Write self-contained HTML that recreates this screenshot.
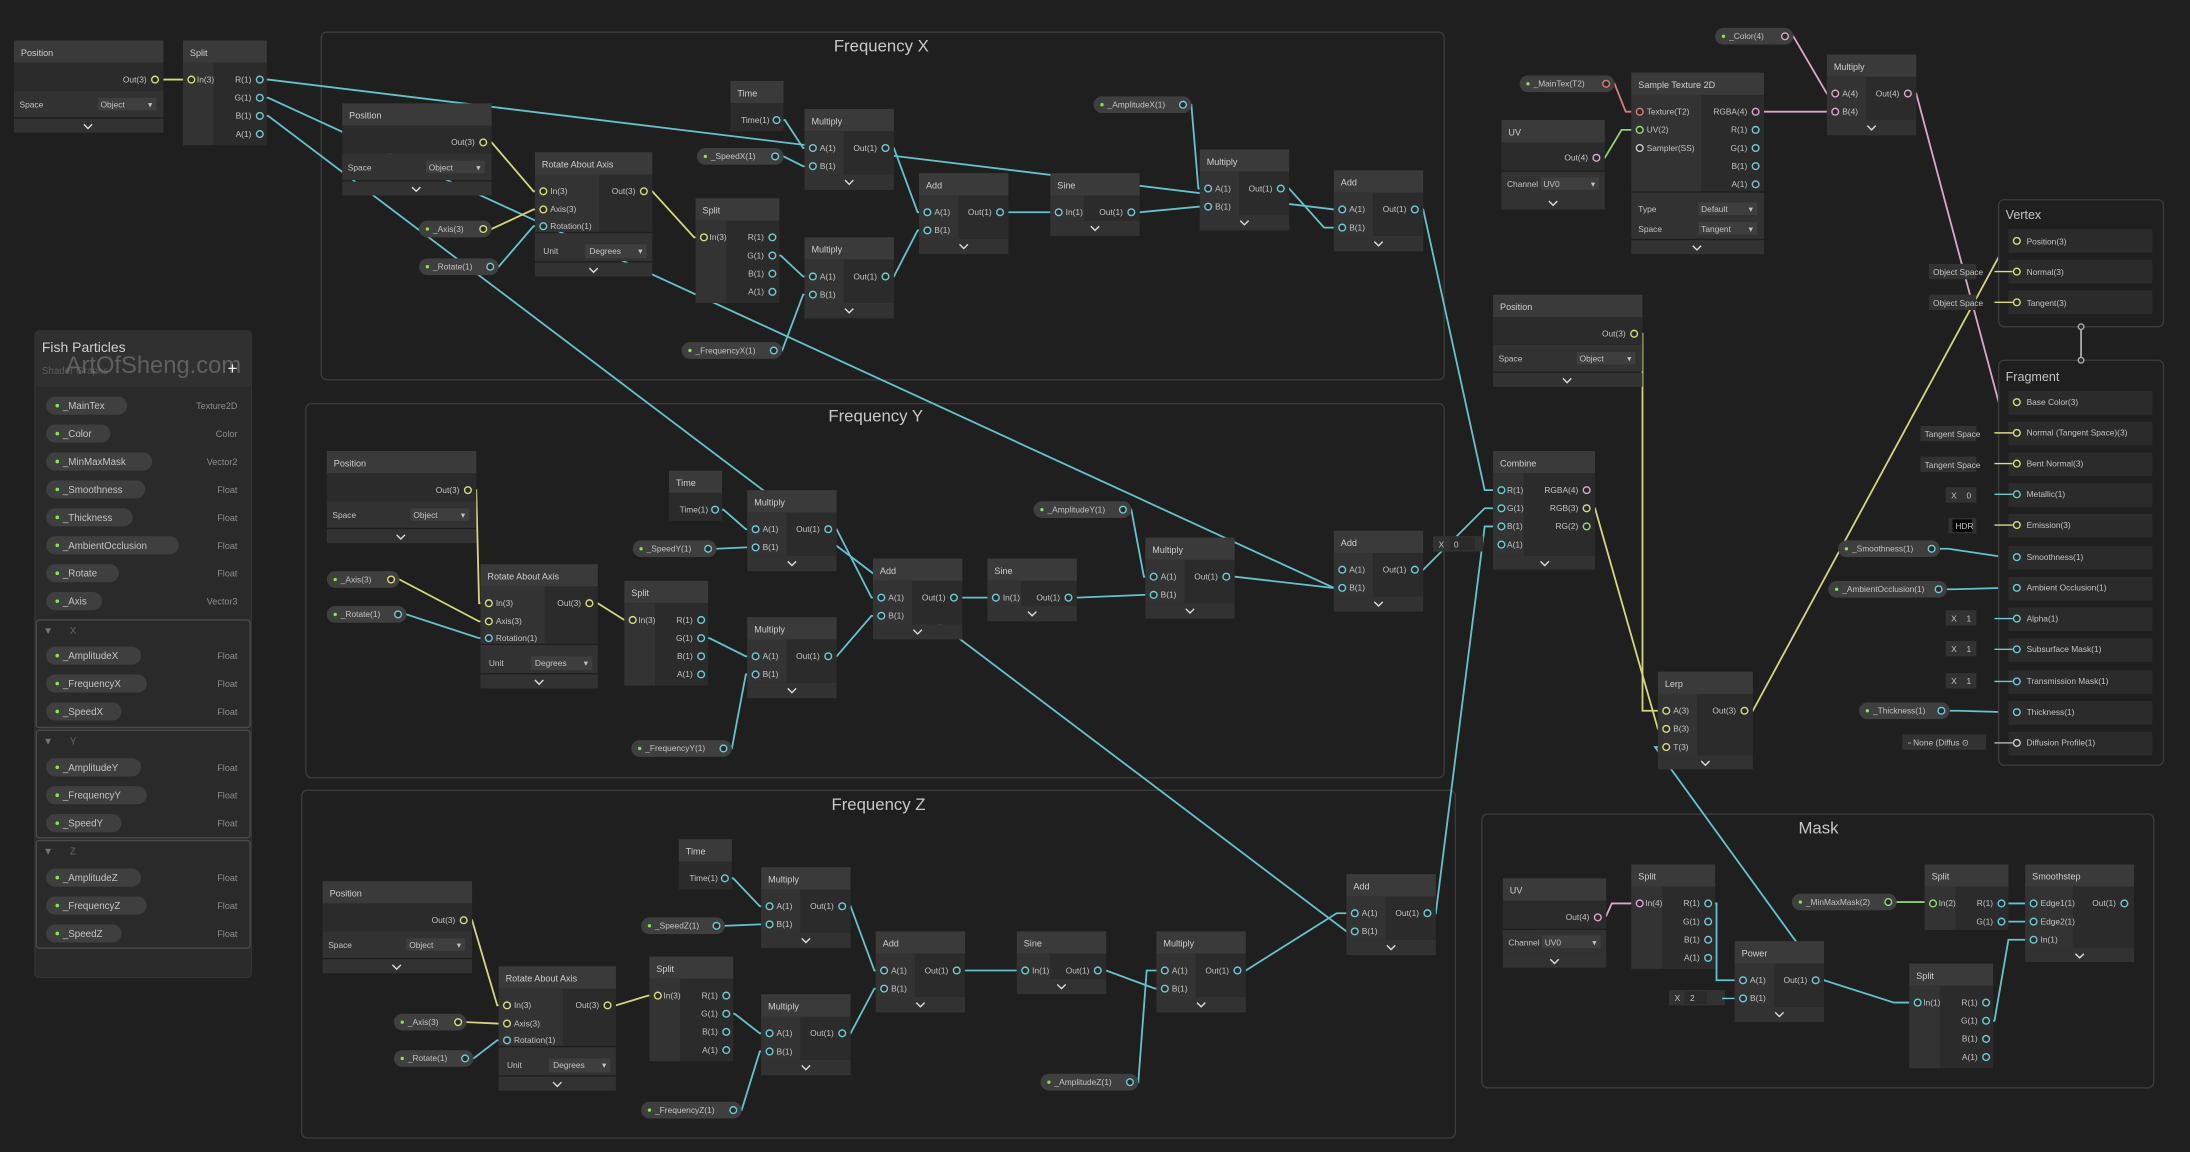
<!DOCTYPE html>
<html><head><meta charset="utf-8"><style>
html,body{margin:0;padding:0;background:#1f1f1f;overflow:hidden}
svg{display:block}
text{fill:#c4c4c4;font-family:"Liberation Sans",sans-serif;font-size:6px}
.h{font-size:6.5px;fill:#cfcfcf}
.r{text-anchor:end}
.gt{font-size:12px;fill:#c8c8c8;text-anchor:middle}
.hd{fill:#3a3a3a}.bd{fill:#2b2b2b}.ic{fill:#333}.ft{fill:#323232}
.dd{fill:#3e3e3e}
.cv{fill:none;stroke:#ddd;stroke-width:1}
circle{r:2.4;fill:#2a2a2a;stroke-width:1}
.pc{stroke:#6fcad2}.py{stroke:#d8db7e}.pp{stroke:#dba7cc}.pg{stroke:#9ad77e}.pr{stroke:#e07a7a}
.w{fill:none;stroke-width:1.3}
.wc{stroke:#63c3cb}.wy{stroke:#d3d67a}.wp{stroke:#d9a6c9}.wg{stroke:#8fcf78}.wr{stroke:#d97a7a}
.pill{fill:#3f3f3f}
.grp{fill:#1f1f1f;stroke:#3b3b3b;stroke-width:1}
.dot{fill:#8be05a}
.ty{fill:#8e8e8e;text-anchor:end;font-size:6.5px}
.bb{font-size:7px}
</style></head><body>
<svg width="2190" height="1152" viewBox="0 0 1568 825" preserveAspectRatio="none" xmlns="http://www.w3.org/2000/svg">
<rect width="1568" height="825" fill="#1f1f1f"/>
<!-- groups -->
<rect class="grp" x="230" y="23" width="804" height="249" rx="4"/><text class="gt" x="631" y="37">Frequency X</text>
<rect class="grp" x="219" y="289" width="815" height="268" rx="4"/><text class="gt" x="627" y="302">Frequency Y</text>
<rect class="grp" x="216" y="566" width="826" height="249" rx="4"/><text class="gt" x="629" y="580">Frequency Z</text>
<rect class="grp" x="1061" y="583" width="481" height="196" rx="4"/><text class="gt" x="1302" y="597">Mask</text>

<!-- wires -->
<g class="w">
<path class="w wy" d="M111 57H137"/>
<path class="w wc" d="M186 57h6L955 150h6"/>
<path class="w wc" d="M186 70h6L955 421h6"/>
<path class="w wc" d="M186 83h6L964 667h6"/>
<!-- X -->
<path class="w wy" d="M346 102h6l30 35h7"/>
<path class="w wy" d="M346 164h6l30 -14h7"/>
<path class="w wc" d="M351 191h6l25 -29h7"/>
<path class="w wy" d="M461 137h6l30 33h7"/>
<path class="w wc" d="M556 86h6l13 20h7"/>
<path class="w wc" d="M555 112h6l14 7h7"/>
<path class="w wc" d="M553 183h6l16 15h7"/>
<path class="w wc" d="M554 251h6l15 -40h7"/>
<path class="w wc" d="M634 106h6l17 46h7"/>
<path class="w wc" d="M634 198h6l17 -33h7"/>
<path class="w wc" d="M716 152H758"/>
<path class="w wc" d="M810 152h6l42 -4h7"/>
<path class="w wc" d="M847 75h6l5 60h7"/>
<path class="w wc" d="M917 135h6l25 28h7"/>
<!-- Y -->
<path class="w wy" d="M335 351h6l2 81h7"/>
<path class="w wy" d="M280 415h6l57 30h7"/>
<path class="w wc" d="M285 440h6l52 17h7"/>
<path class="w wy" d="M422 432h6l19 12h6"/>
<path class="w wc" d="M512 365h6l16 14h7"/>
<path class="w wc" d="M507 393h6l21 -1h7"/>
<path class="w wc" d="M502 457h6l26 13h7"/>
<path class="w wc" d="M518 536h6l10 -53h7"/>
<path class="w wc" d="M593 379h6l25 49h7"/>
<path class="w wc" d="M593 470h6l25 -29h7"/>
<path class="w wc" d="M683 428H713"/>
<path class="w wc" d="M765 428h6l48 -2h7"/>
<path class="w wc" d="M804 365h6l9 48h7"/>
<path class="w wc" d="M878 413h6l70 8h7"/>
<!-- Z -->
<path class="w wy" d="M332 659h6l18 61h7"/>
<path class="w wy" d="M328 732h6l22 1h7"/>
<path class="w wc" d="M333 758h6l17 -13h7"/>
<path class="w wy" d="M435 720h6l23 -7h7"/>
<path class="w wc" d="M519 629h6l19 20h7"/>
<path class="w wc" d="M513 663h6l25 -1h7"/>
<path class="w wc" d="M520 726h6l18 14h7"/>
<path class="w wc" d="M525 795h6l13 -42h7"/>
<path class="w wc" d="M603 649h6l17 46h7"/>
<path class="w wc" d="M603 740h6l17 -32h7"/>
<path class="w wc" d="M685 695H734"/>
<path class="w wc" d="M786 695h6l35 13h7"/>
<path class="w wc" d="M809 775h6l6 -80h7"/>
<path class="w wc" d="M886 695h6l65 -41h7"/>
<!-- to combine -->
<path class="w wc" d="M1013 150h6l44 201h6"/>
<path class="w wc" d="M1013 408h6l44 -44h6"/>
<path class="w wc" d="M1022 654h6l35 -277h6"/>
<path class="w wy" d="M1136 364h6l45 158h6"/>
<path class="w wy" d="M1170 239h6v270h17"/>
<path class="w wy" d="M1249 509h6l182 -336h6"/>
<!-- texture -->
<path class="w wg" d="M1143 113h6l12 -20h13"/>
<path class="w wr" d="M1150 60h6l8 20h10"/>
<path class="w wp" d="M1256 80H1314"/>
<path class="w wp" d="M1278 26h6l24 41h6"/>
<path class="w wp" d="M1366 67h6l59 221h12"/>
<path class="w wc" d="M1389 393h6l40 6h8"/>
<path class="w wc" d="M1394 422h6l35 -1h8"/>
<path class="w wc" d="M1396 509h6l33 1h8"/>
<!-- mask -->
<path class="w wp" d="M1144 656h6l4 -9h20"/>
<path class="w wc" d="M1223 647h6v55h19"/>
<path class="w wc" d="M1300 702h6l-121 -167h8"/>
<path class="w wc" d="M1300 702h6l50 16h17"/>
<path class="w wc" d="M1422 731h6l10 -58h18"/>
<path class="w wg" d="M1352 646H1384"/>
<path class="w wc" d="M1433 647h6l5 0h12"/>
<path class="w wc" d="M1433 660h6l5 0h12"/>
<path class="w" stroke="#aaa" d="M1490 234V258"/>
</g>

<!-- Top-left Position -->
<g transform="translate(10,29)"><rect width="107" height="16" class="hd"/><text class="h" x="5" y="11">Position</text><rect y="16" width="107" height="20" class="bd"/><text class="r" x="95" y="30">Out(3)</text><circle cx="101" cy="28" class="py"/><rect y="36" width="107" height="19" class="ft"/><text x="4" y="48">Space</text><rect x="60" y="41" width="42" height="9" class="dd"/><text x="62" y="48">Object</text><text x="96" y="48">▾</text><rect y="56" width="107" height="10" class="ft"/><path d="M50 60l3 3 3-3" class="cv"/></g>
<!-- Split top-left -->
<g transform="translate(131,29)"><rect width="60" height="16" class="hd"/><text class="h" x="5" y="11">Split</text><rect y="16" width="60" height="59" class="bd"/><rect y="16" width="22" height="59" class="ic"/><circle cx="6" cy="28" class="py"/><text x="10" y="30">In(3)</text><text class="r" x="49" y="30">R(1)</text><circle cx="55" cy="28" class="pc"/><text class="r" x="49" y="43">G(1)</text><circle cx="55" cy="41" class="pc"/><text class="r" x="49" y="56">B(1)</text><circle cx="55" cy="54" class="pc"/><text class="r" x="49" y="69">A(1)</text><circle cx="55" cy="67" class="pc"/></g>

<!-- ============ Frequency X ============ -->
<g transform="translate(245,74)"><rect width="107" height="16" class="hd"/><text class="h" x="5" y="11">Position</text><rect y="16" width="107" height="20" class="bd"/><text class="r" x="95" y="30">Out(3)</text><circle cx="101" cy="28" class="py"/><rect y="36" width="107" height="19" class="ft"/><text x="4" y="48">Space</text><rect x="60" y="41" width="42" height="9" class="dd"/><text x="62" y="48">Object</text><text x="96" y="48">▾</text><rect y="56" width="107" height="10" class="ft"/><path d="M50 60l3 3 3-3" class="cv"/></g>
<g transform="translate(383,109)"><rect width="84" height="16" class="hd"/><text class="h" x="5" y="11">Rotate About Axis</text><rect y="16" width="84" height="41" class="bd"/><rect y="16" width="46" height="41" class="ic"/><circle cx="6" cy="28" class="py"/><text x="11" y="30">In(3)</text><circle cx="6" cy="41" class="py"/><text x="11" y="43">Axis(3)</text><circle cx="6" cy="53" class="pc"/><text x="11" y="55">Rotation(1)</text><text class="r" x="72" y="30">Out(3)</text><circle cx="78" cy="28" class="py"/><rect y="58" width="84" height="20" class="ft"/><text x="6" y="73">Unit</text><rect x="36" y="66" width="44" height="10" class="dd"/><text x="39" y="73">Degrees</text><text x="74" y="73">▾</text><rect y="79" width="84" height="10" class="ft"/><path d="M39 83l3 3 3-3" class="cv"/></g>
<g transform="translate(300,158)"><rect width="52" height="12" rx="6" class="pill"/><circle cx="6" cy="6" r="1.2" class="dot" style="r:1.2;stroke:none;fill:#8be05a"/><text x="10" y="8">_Axis(3)</text><circle cx="46" cy="6" class="py"/></g>
<g transform="translate(300,185)"><rect width="57" height="12" rx="6" class="pill"/><circle cx="6" cy="6" style="r:1.2;stroke:none;fill:#8be05a"/><text x="10" y="8">_Rotate(1)</text><circle cx="51" cy="6" class="pc"/></g>
<g transform="translate(523,58)"><rect width="38" height="16" class="hd"/><text class="h" x="5" y="11">Time</text><rect y="16" width="38" height="20" class="bd"/><text class="r" x="28" y="30">Time(1)</text><circle cx="33" cy="28" class="pc"/></g>
<g transform="translate(499,106)"><rect width="62" height="12" rx="6" class="pill"/><circle cx="6" cy="6" style="r:1.2;stroke:none;fill:#8be05a"/><text x="10" y="8">_SpeedX(1)</text><circle cx="56" cy="6" class="pc"/></g>
<g transform="translate(576,78)"><rect width="64" height="16" class="hd"/><text class="h" x="5" y="11">Multiply</text><rect y="16" width="64" height="31" class="bd"/><rect y="16" width="28" height="31" class="ic"/><circle cx="6" cy="28" class="pc"/><text x="11" y="30">A(1)</text><circle cx="6" cy="41" class="pc"/><text x="11" y="43">B(1)</text><text class="r" x="52" y="30">Out(1)</text><circle cx="58" cy="28" class="pc"/><rect y="47" width="64" height="11" class="ft"/><path d="M29 51l3 3 3-3" class="cv"/></g>
<g transform="translate(498,142)"><rect width="60" height="16" class="hd"/><text class="h" x="5" y="11">Split</text><rect y="16" width="60" height="59" class="bd"/><rect y="16" width="22" height="59" class="ic"/><circle cx="6" cy="28" class="py"/><text x="10" y="30">In(3)</text><text class="r" x="49" y="30">R(1)</text><circle cx="55" cy="28" class="pc"/><text class="r" x="49" y="43">G(1)</text><circle cx="55" cy="41" class="pc"/><text class="r" x="49" y="56">B(1)</text><circle cx="55" cy="54" class="pc"/><text class="r" x="49" y="69">A(1)</text><circle cx="55" cy="67" class="pc"/></g>
<g transform="translate(576,170)"><rect width="64" height="16" class="hd"/><text class="h" x="5" y="11">Multiply</text><rect y="16" width="64" height="31" class="bd"/><rect y="16" width="28" height="31" class="ic"/><circle cx="6" cy="28" class="pc"/><text x="11" y="30">A(1)</text><circle cx="6" cy="41" class="pc"/><text x="11" y="43">B(1)</text><text class="r" x="52" y="30">Out(1)</text><circle cx="58" cy="28" class="pc"/><rect y="47" width="64" height="11" class="ft"/><path d="M29 51l3 3 3-3" class="cv"/></g>
<g transform="translate(488,245)"><rect width="72" height="12" rx="6" class="pill"/><circle cx="6" cy="6" style="r:1.2;stroke:none;fill:#8be05a"/><text x="10" y="8">_FrequencyX(1)</text><circle cx="66" cy="6" class="pc"/></g>
<g transform="translate(658,124)"><rect width="64" height="16" class="hd"/><text class="h" x="5" y="11">Add</text><rect y="16" width="64" height="31" class="bd"/><rect y="16" width="28" height="31" class="ic"/><circle cx="6" cy="28" class="pc"/><text x="11" y="30">A(1)</text><circle cx="6" cy="41" class="pc"/><text x="11" y="43">B(1)</text><text class="r" x="52" y="30">Out(1)</text><circle cx="58" cy="28" class="pc"/><rect y="47" width="64" height="11" class="ft"/><path d="M29 51l3 3 3-3" class="cv"/></g>
<g transform="translate(752,124)"><rect width="64" height="16" class="hd"/><text class="h" x="5" y="11">Sine</text><rect y="16" width="64" height="18" class="bd"/><rect y="16" width="24" height="18" class="ic"/><circle cx="6" cy="28" class="pc"/><text x="11" y="30">In(1)</text><text class="r" x="52" y="30">Out(1)</text><circle cx="58" cy="28" class="pc"/><rect y="34" width="64" height="11" class="ft"/><path d="M29 38l3 3 3-3" class="cv"/></g>
<g transform="translate(783,69)"><rect width="70" height="12" rx="6" class="pill"/><circle cx="6" cy="6" style="r:1.2;stroke:none;fill:#8be05a"/><text x="10" y="8">_AmplitudeX(1)</text><circle cx="64" cy="6" class="pc"/></g>
<g transform="translate(859,107)"><rect width="64" height="16" class="hd"/><text class="h" x="5" y="11">Multiply</text><rect y="16" width="64" height="31" class="bd"/><rect y="16" width="28" height="31" class="ic"/><circle cx="6" cy="28" class="pc"/><text x="11" y="30">A(1)</text><circle cx="6" cy="41" class="pc"/><text x="11" y="43">B(1)</text><text class="r" x="52" y="30">Out(1)</text><circle cx="58" cy="28" class="pc"/><rect y="47" width="64" height="11" class="ft"/><path d="M29 51l3 3 3-3" class="cv"/></g>
<g transform="translate(955,122)"><rect width="64" height="16" class="hd"/><text class="h" x="5" y="11">Add</text><rect y="16" width="64" height="31" class="bd"/><rect y="16" width="28" height="31" class="ic"/><circle cx="6" cy="28" class="pc"/><text x="11" y="30">A(1)</text><circle cx="6" cy="41" class="pc"/><text x="11" y="43">B(1)</text><text class="r" x="52" y="30">Out(1)</text><circle cx="58" cy="28" class="pc"/><rect y="47" width="64" height="11" class="ft"/><path d="M29 51l3 3 3-3" class="cv"/></g>

<!-- ============ Frequency Y ============ -->
<g transform="translate(234,323)"><rect width="107" height="16" class="hd"/><text class="h" x="5" y="11">Position</text><rect y="16" width="107" height="20" class="bd"/><text class="r" x="95" y="30">Out(3)</text><circle cx="101" cy="28" class="py"/><rect y="36" width="107" height="19" class="ft"/><text x="4" y="48">Space</text><rect x="60" y="41" width="42" height="9" class="dd"/><text x="62" y="48">Object</text><text x="96" y="48">▾</text><rect y="56" width="107" height="10" class="ft"/><path d="M50 60l3 3 3-3" class="cv"/></g>
<g transform="translate(344,404)"><rect width="84" height="16" class="hd"/><text class="h" x="5" y="11">Rotate About Axis</text><rect y="16" width="84" height="41" class="bd"/><rect y="16" width="46" height="41" class="ic"/><circle cx="6" cy="28" class="py"/><text x="11" y="30">In(3)</text><circle cx="6" cy="41" class="py"/><text x="11" y="43">Axis(3)</text><circle cx="6" cy="53" class="pc"/><text x="11" y="55">Rotation(1)</text><text class="r" x="72" y="30">Out(3)</text><circle cx="78" cy="28" class="py"/><rect y="58" width="84" height="20" class="ft"/><text x="6" y="73">Unit</text><rect x="36" y="66" width="44" height="10" class="dd"/><text x="39" y="73">Degrees</text><text x="74" y="73">▾</text><rect y="79" width="84" height="10" class="ft"/><path d="M39 83l3 3 3-3" class="cv"/></g>
<g transform="translate(234,409)"><rect width="52" height="12" rx="6" class="pill"/><circle cx="6" cy="6" style="r:1.2;stroke:none;fill:#8be05a"/><text x="10" y="8">_Axis(3)</text><circle cx="46" cy="6" class="py"/></g>
<g transform="translate(234,434)"><rect width="57" height="12" rx="6" class="pill"/><circle cx="6" cy="6" style="r:1.2;stroke:none;fill:#8be05a"/><text x="10" y="8">_Rotate(1)</text><circle cx="51" cy="6" class="pc"/></g>
<g transform="translate(479,337)"><rect width="38" height="16" class="hd"/><text class="h" x="5" y="11">Time</text><rect y="16" width="38" height="20" class="bd"/><text class="r" x="28" y="30">Time(1)</text><circle cx="33" cy="28" class="pc"/></g>
<g transform="translate(453,387)"><rect width="60" height="12" rx="6" class="pill"/><circle cx="6" cy="6" style="r:1.2;stroke:none;fill:#8be05a"/><text x="10" y="8">_SpeedY(1)</text><circle cx="54" cy="6" class="pc"/></g>
<g transform="translate(535,351)"><rect width="64" height="16" class="hd"/><text class="h" x="5" y="11">Multiply</text><rect y="16" width="64" height="31" class="bd"/><rect y="16" width="28" height="31" class="ic"/><circle cx="6" cy="28" class="pc"/><text x="11" y="30">A(1)</text><circle cx="6" cy="41" class="pc"/><text x="11" y="43">B(1)</text><text class="r" x="52" y="30">Out(1)</text><circle cx="58" cy="28" class="pc"/><rect y="47" width="64" height="11" class="ft"/><path d="M29 51l3 3 3-3" class="cv"/></g>
<g transform="translate(447,416)"><rect width="60" height="16" class="hd"/><text class="h" x="5" y="11">Split</text><rect y="16" width="60" height="59" class="bd"/><rect y="16" width="22" height="59" class="ic"/><circle cx="6" cy="28" class="py"/><text x="10" y="30">In(3)</text><text class="r" x="49" y="30">R(1)</text><circle cx="55" cy="28" class="pc"/><text class="r" x="49" y="43">G(1)</text><circle cx="55" cy="41" class="pc"/><text class="r" x="49" y="56">B(1)</text><circle cx="55" cy="54" class="pc"/><text class="r" x="49" y="69">A(1)</text><circle cx="55" cy="67" class="pc"/></g>
<g transform="translate(535,442)"><rect width="64" height="16" class="hd"/><text class="h" x="5" y="11">Multiply</text><rect y="16" width="64" height="31" class="bd"/><rect y="16" width="28" height="31" class="ic"/><circle cx="6" cy="28" class="pc"/><text x="11" y="30">A(1)</text><circle cx="6" cy="41" class="pc"/><text x="11" y="43">B(1)</text><text class="r" x="52" y="30">Out(1)</text><circle cx="58" cy="28" class="pc"/><rect y="47" width="64" height="11" class="ft"/><path d="M29 51l3 3 3-3" class="cv"/></g>
<g transform="translate(452,530)"><rect width="72" height="12" rx="6" class="pill"/><circle cx="6" cy="6" style="r:1.2;stroke:none;fill:#8be05a"/><text x="10" y="8">_FrequencyY(1)</text><circle cx="66" cy="6" class="pc"/></g>
<g transform="translate(625,400)"><rect width="64" height="16" class="hd"/><text class="h" x="5" y="11">Add</text><rect y="16" width="64" height="31" class="bd"/><rect y="16" width="28" height="31" class="ic"/><circle cx="6" cy="28" class="pc"/><text x="11" y="30">A(1)</text><circle cx="6" cy="41" class="pc"/><text x="11" y="43">B(1)</text><text class="r" x="52" y="30">Out(1)</text><circle cx="58" cy="28" class="pc"/><rect y="47" width="64" height="11" class="ft"/><path d="M29 51l3 3 3-3" class="cv"/></g>
<g transform="translate(707,400)"><rect width="64" height="16" class="hd"/><text class="h" x="5" y="11">Sine</text><rect y="16" width="64" height="18" class="bd"/><rect y="16" width="24" height="18" class="ic"/><circle cx="6" cy="28" class="pc"/><text x="11" y="30">In(1)</text><text class="r" x="52" y="30">Out(1)</text><circle cx="58" cy="28" class="pc"/><rect y="34" width="64" height="11" class="ft"/><path d="M29 38l3 3 3-3" class="cv"/></g>
<g transform="translate(740,359)"><rect width="70" height="12" rx="6" class="pill"/><circle cx="6" cy="6" style="r:1.2;stroke:none;fill:#8be05a"/><text x="10" y="8">_AmplitudeY(1)</text><circle cx="64" cy="6" class="pc"/></g>
<g transform="translate(820,385)"><rect width="64" height="16" class="hd"/><text class="h" x="5" y="11">Multiply</text><rect y="16" width="64" height="31" class="bd"/><rect y="16" width="28" height="31" class="ic"/><circle cx="6" cy="28" class="pc"/><text x="11" y="30">A(1)</text><circle cx="6" cy="41" class="pc"/><text x="11" y="43">B(1)</text><text class="r" x="52" y="30">Out(1)</text><circle cx="58" cy="28" class="pc"/><rect y="47" width="64" height="11" class="ft"/><path d="M29 51l3 3 3-3" class="cv"/></g>
<g transform="translate(955,380)"><rect width="64" height="16" class="hd"/><text class="h" x="5" y="11">Add</text><rect y="16" width="64" height="31" class="bd"/><rect y="16" width="28" height="31" class="ic"/><circle cx="6" cy="28" class="pc"/><text x="11" y="30">A(1)</text><circle cx="6" cy="41" class="pc"/><text x="11" y="43">B(1)</text><text class="r" x="52" y="30">Out(1)</text><circle cx="58" cy="28" class="pc"/><rect y="47" width="64" height="11" class="ft"/><path d="M29 51l3 3 3-3" class="cv"/></g>

<!-- ============ Frequency Z ============ -->
<g transform="translate(231,631)"><rect width="107" height="16" class="hd"/><text class="h" x="5" y="11">Position</text><rect y="16" width="107" height="20" class="bd"/><text class="r" x="95" y="30">Out(3)</text><circle cx="101" cy="28" class="py"/><rect y="36" width="107" height="19" class="ft"/><text x="4" y="48">Space</text><rect x="60" y="41" width="42" height="9" class="dd"/><text x="62" y="48">Object</text><text x="96" y="48">▾</text><rect y="56" width="107" height="10" class="ft"/><path d="M50 60l3 3 3-3" class="cv"/></g>
<g transform="translate(357,692)"><rect width="84" height="16" class="hd"/><text class="h" x="5" y="11">Rotate About Axis</text><rect y="16" width="84" height="41" class="bd"/><rect y="16" width="46" height="41" class="ic"/><circle cx="6" cy="28" class="py"/><text x="11" y="30">In(3)</text><circle cx="6" cy="41" class="py"/><text x="11" y="43">Axis(3)</text><circle cx="6" cy="53" class="pc"/><text x="11" y="55">Rotation(1)</text><text class="r" x="72" y="30">Out(3)</text><circle cx="78" cy="28" class="py"/><rect y="58" width="84" height="20" class="ft"/><text x="6" y="73">Unit</text><rect x="36" y="66" width="44" height="10" class="dd"/><text x="39" y="73">Degrees</text><text x="74" y="73">▾</text><rect y="79" width="84" height="10" class="ft"/><path d="M39 83l3 3 3-3" class="cv"/></g>
<g transform="translate(282,726)"><rect width="52" height="12" rx="6" class="pill"/><circle cx="6" cy="6" style="r:1.2;stroke:none;fill:#8be05a"/><text x="10" y="8">_Axis(3)</text><circle cx="46" cy="6" class="py"/></g>
<g transform="translate(282,752)"><rect width="57" height="12" rx="6" class="pill"/><circle cx="6" cy="6" style="r:1.2;stroke:none;fill:#8be05a"/><text x="10" y="8">_Rotate(1)</text><circle cx="51" cy="6" class="pc"/></g>
<g transform="translate(486,601)"><rect width="38" height="16" class="hd"/><text class="h" x="5" y="11">Time</text><rect y="16" width="38" height="20" class="bd"/><text class="r" x="28" y="30">Time(1)</text><circle cx="33" cy="28" class="pc"/></g>
<g transform="translate(459,657)"><rect width="60" height="12" rx="6" class="pill"/><circle cx="6" cy="6" style="r:1.2;stroke:none;fill:#8be05a"/><text x="10" y="8">_SpeedZ(1)</text><circle cx="54" cy="6" class="pc"/></g>
<g transform="translate(545,621)"><rect width="64" height="16" class="hd"/><text class="h" x="5" y="11">Multiply</text><rect y="16" width="64" height="31" class="bd"/><rect y="16" width="28" height="31" class="ic"/><circle cx="6" cy="28" class="pc"/><text x="11" y="30">A(1)</text><circle cx="6" cy="41" class="pc"/><text x="11" y="43">B(1)</text><text class="r" x="52" y="30">Out(1)</text><circle cx="58" cy="28" class="pc"/><rect y="47" width="64" height="11" class="ft"/><path d="M29 51l3 3 3-3" class="cv"/></g>
<g transform="translate(465,685)"><rect width="60" height="16" class="hd"/><text class="h" x="5" y="11">Split</text><rect y="16" width="60" height="59" class="bd"/><rect y="16" width="22" height="59" class="ic"/><circle cx="6" cy="28" class="py"/><text x="10" y="30">In(3)</text><text class="r" x="49" y="30">R(1)</text><circle cx="55" cy="28" class="pc"/><text class="r" x="49" y="43">G(1)</text><circle cx="55" cy="41" class="pc"/><text class="r" x="49" y="56">B(1)</text><circle cx="55" cy="54" class="pc"/><text class="r" x="49" y="69">A(1)</text><circle cx="55" cy="67" class="pc"/></g>
<g transform="translate(545,712)"><rect width="64" height="16" class="hd"/><text class="h" x="5" y="11">Multiply</text><rect y="16" width="64" height="31" class="bd"/><rect y="16" width="28" height="31" class="ic"/><circle cx="6" cy="28" class="pc"/><text x="11" y="30">A(1)</text><circle cx="6" cy="41" class="pc"/><text x="11" y="43">B(1)</text><text class="r" x="52" y="30">Out(1)</text><circle cx="58" cy="28" class="pc"/><rect y="47" width="64" height="11" class="ft"/><path d="M29 51l3 3 3-3" class="cv"/></g>
<g transform="translate(459,789)"><rect width="72" height="12" rx="6" class="pill"/><circle cx="6" cy="6" style="r:1.2;stroke:none;fill:#8be05a"/><text x="10" y="8">_FrequencyZ(1)</text><circle cx="66" cy="6" class="pc"/></g>
<g transform="translate(627,667)"><rect width="64" height="16" class="hd"/><text class="h" x="5" y="11">Add</text><rect y="16" width="64" height="31" class="bd"/><rect y="16" width="28" height="31" class="ic"/><circle cx="6" cy="28" class="pc"/><text x="11" y="30">A(1)</text><circle cx="6" cy="41" class="pc"/><text x="11" y="43">B(1)</text><text class="r" x="52" y="30">Out(1)</text><circle cx="58" cy="28" class="pc"/><rect y="47" width="64" height="11" class="ft"/><path d="M29 51l3 3 3-3" class="cv"/></g>
<g transform="translate(728,667)"><rect width="64" height="16" class="hd"/><text class="h" x="5" y="11">Sine</text><rect y="16" width="64" height="18" class="bd"/><rect y="16" width="24" height="18" class="ic"/><circle cx="6" cy="28" class="pc"/><text x="11" y="30">In(1)</text><text class="r" x="52" y="30">Out(1)</text><circle cx="58" cy="28" class="pc"/><rect y="34" width="64" height="11" class="ft"/><path d="M29 38l3 3 3-3" class="cv"/></g>
<g transform="translate(828,667)"><rect width="64" height="16" class="hd"/><text class="h" x="5" y="11">Multiply</text><rect y="16" width="64" height="31" class="bd"/><rect y="16" width="28" height="31" class="ic"/><circle cx="6" cy="28" class="pc"/><text x="11" y="30">A(1)</text><circle cx="6" cy="41" class="pc"/><text x="11" y="43">B(1)</text><text class="r" x="52" y="30">Out(1)</text><circle cx="58" cy="28" class="pc"/><rect y="47" width="64" height="11" class="ft"/><path d="M29 51l3 3 3-3" class="cv"/></g>
<g transform="translate(745,769)"><rect width="70" height="12" rx="6" class="pill"/><circle cx="6" cy="6" style="r:1.2;stroke:none;fill:#8be05a"/><text x="10" y="8">_AmplitudeZ(1)</text><circle cx="64" cy="6" class="pc"/></g>
<g transform="translate(964,626)"><rect width="64" height="16" class="hd"/><text class="h" x="5" y="11">Add</text><rect y="16" width="64" height="31" class="bd"/><rect y="16" width="28" height="31" class="ic"/><circle cx="6" cy="28" class="pc"/><text x="11" y="30">A(1)</text><circle cx="6" cy="41" class="pc"/><text x="11" y="43">B(1)</text><text class="r" x="52" y="30">Out(1)</text><circle cx="58" cy="28" class="pc"/><rect y="47" width="64" height="11" class="ft"/><path d="M29 51l3 3 3-3" class="cv"/></g>

<!-- X 0 field near combine -->
<rect x="1026" y="384" width="36" height="11" class="ft"/><text x="1030" y="392">X</text><rect x="1038" y="385" width="18" height="9" fill="#2a2a2a"/><text x="1041" y="392">0</text>
<!-- Combine -->
<g transform="translate(1069,323)"><rect width="73" height="16" class="hd"/><text class="h" x="5" y="11">Combine</text><rect y="16" width="73" height="59" class="bd"/><rect y="16" width="22" height="59" class="ic"/><circle cx="6" cy="28" class="pc"/><text x="10" y="30">R(1)</text><circle cx="6" cy="41" class="pc"/><text x="10" y="43">G(1)</text><circle cx="6" cy="54" class="pc"/><text x="10" y="56">B(1)</text><circle cx="6" cy="67" class="pc"/><text x="10" y="69">A(1)</text><text class="r" x="61" y="30">RGBA(4)</text><circle cx="67" cy="28" class="pp"/><text class="r" x="61" y="43">RGB(3)</text><circle cx="67" cy="41" class="py"/><text class="r" x="61" y="56">RG(2)</text><circle cx="67" cy="54" class="pg"/><rect y="75" width="73" height="10" class="ft"/><path d="M34 79l3 3 3-3" class="cv"/></g>
<!-- Position right -->
<g transform="translate(1069,211)"><rect width="107" height="16" class="hd"/><text class="h" x="5" y="11">Position</text><rect y="16" width="107" height="20" class="bd"/><text class="r" x="95" y="30">Out(3)</text><circle cx="101" cy="28" class="py"/><rect y="36" width="107" height="19" class="ft"/><text x="4" y="48">Space</text><rect x="60" y="41" width="42" height="9" class="dd"/><text x="62" y="48">Object</text><text x="96" y="48">▾</text><rect y="56" width="107" height="10" class="ft"/><path d="M50 60l3 3 3-3" class="cv"/></g>
<!-- UV top -->
<g transform="translate(1075,86)"><rect width="74" height="16" class="hd"/><text class="h" x="5" y="11">UV</text><rect y="16" width="74" height="20" class="bd"/><text class="r" x="62" y="29">Out(4)</text><circle cx="68" cy="27" class="pp"/><rect y="37" width="74" height="17" class="ft"/><text x="4" y="48">Channel</text><rect x="28" y="41" width="42" height="9" class="dd"/><text x="30" y="48">UV0</text><text x="64" y="48">▾</text><rect y="54" width="74" height="10" class="ft"/><path d="M34 58l3 3 3-3" class="cv"/></g>
<g transform="translate(1088,54)"><rect width="68" height="12" rx="6" class="pill"/><circle cx="6" cy="6" style="r:1.2;stroke:none;fill:#8be05a"/><text x="10" y="8">_MainTex(T2)</text><circle cx="62" cy="6" class="pr"/></g>
<!-- Sample Texture -->
<g transform="translate(1168,52)"><rect width="95" height="16" class="hd"/><text class="h" x="5" y="11">Sample Texture 2D</text><rect y="16" width="95" height="69" class="bd"/><rect y="16" width="50" height="69" class="ic"/><circle cx="6" cy="28" class="pr"/><text x="11" y="30">Texture(T2)</text><circle cx="6" cy="41" class="pg"/><text x="11" y="43">UV(2)</text><circle cx="6" cy="54" stroke="#ccc"/><text x="11" y="56">Sampler(SS)</text><text class="r" x="83" y="30">RGBA(4)</text><circle cx="89" cy="28" class="pp"/><text class="r" x="83" y="43">R(1)</text><circle cx="89" cy="41" class="pc"/><text class="r" x="83" y="56">G(1)</text><circle cx="89" cy="54" class="pc"/><text class="r" x="83" y="69">B(1)</text><circle cx="89" cy="67" class="pc"/><text class="r" x="83" y="82">A(1)</text><circle cx="89" cy="80" class="pc"/><rect y="86" width="95" height="33" class="ft"/><text x="5" y="100">Type</text><rect x="48" y="93" width="42" height="9" class="dd"/><text x="50" y="100">Default</text><text x="84" y="100">▾</text><text x="5" y="114">Space</text><rect x="48" y="107" width="42" height="9" class="dd"/><text x="50" y="114">Tangent</text><text x="84" y="114">▾</text><rect y="120" width="95" height="10" class="ft"/><path d="M44 124l3 3 3-3" class="cv"/></g>
<g transform="translate(1228,20)"><rect width="56" height="12" rx="6" class="pill"/><circle cx="6" cy="6" style="r:1.2;stroke:none;fill:#8be05a"/><text x="10" y="8">_Color(4)</text><circle cx="50" cy="6" class="pp"/></g>
<g transform="translate(1308,39)"><rect width="64" height="16" class="hd"/><text class="h" x="5" y="11">Multiply</text><rect y="16" width="64" height="31" class="bd"/><rect y="16" width="28" height="31" class="ic"/><circle cx="6" cy="28" class="pp"/><text x="11" y="30">A(4)</text><circle cx="6" cy="41" class="pp"/><text x="11" y="43">B(4)</text><text class="r" x="52" y="30">Out(4)</text><circle cx="58" cy="28" class="pp"/><rect y="47" width="64" height="11" class="ft"/><path d="M29 51l3 3 3-3" class="cv"/></g>

<!-- Vertex -->
<rect class="grp" x="1431" y="143" width="118" height="91" rx="4" fill="#1f1f1f"/>
<text x="1436" y="157" style="font-size:9px">Vertex</text>
<rect x="1438" y="164" width="103" height="17" class="bd"/><circle cx="1444" cy="172.5" class="py"/><text x="1451" y="175">Position(3)</text>
<rect x="1438" y="186" width="103" height="17" class="bd"/><circle cx="1444" cy="194.5" class="py"/><text x="1451" y="197">Normal(3)</text>
<rect x="1438" y="208" width="103" height="17" class="bd"/><circle cx="1444" cy="216.5" class="py"/><text x="1451" y="219">Tangent(3)</text>
<rect x="1381" y="189" width="34" height="11" class="ft"/><text x="1384" y="197">Object Space</text><path d="M1428 194.5H1441" stroke="#d8db7e"/>
<rect x="1381" y="211" width="34" height="11" class="ft"/><text x="1384" y="219">Object Space</text><path d="M1428 216.5H1441" stroke="#d8db7e"/>
<!-- Fragment -->
<rect class="grp" x="1431" y="258" width="118" height="290" rx="4"/>
<text x="1436" y="273" style="font-size:9px">Fragment</text>
<g>
<rect x="1438" y="280" width="103" height="17" class="bd"/><circle cx="1444" cy="288" class="py"/><text x="1451" y="290">Base Color(3)</text>
<rect x="1438" y="302" width="103" height="17" class="bd"/><circle cx="1444" cy="310" class="py"/><text x="1451" y="312">Normal (Tangent Space)(3)</text>
<rect x="1438" y="324" width="103" height="17" class="bd"/><circle cx="1444" cy="332" class="py"/><text x="1451" y="334">Bent Normal(3)</text>
<rect x="1438" y="346" width="103" height="17" class="bd"/><circle cx="1444" cy="354" class="pc"/><text x="1451" y="356">Metallic(1)</text>
<rect x="1438" y="368" width="103" height="17" class="bd"/><circle cx="1444" cy="376" class="py"/><text x="1451" y="378">Emission(3)</text>
<rect x="1438" y="391" width="103" height="17" class="bd"/><circle cx="1444" cy="399" class="pc"/><text x="1451" y="401">Smoothness(1)</text>
<rect x="1438" y="413" width="103" height="17" class="bd"/><circle cx="1444" cy="421" class="pc"/><text x="1451" y="423">Ambient Occlusion(1)</text>
<rect x="1438" y="435" width="103" height="17" class="bd"/><circle cx="1444" cy="443" class="pc"/><text x="1451" y="445">Alpha(1)</text>
<rect x="1438" y="457" width="103" height="17" class="bd"/><circle cx="1444" cy="465" class="pc"/><text x="1451" y="467">Subsurface Mask(1)</text>
<rect x="1438" y="480" width="103" height="17" class="bd"/><circle cx="1444" cy="488" class="pc"/><text x="1451" y="490">Transmission Mask(1)</text>
<rect x="1438" y="502" width="103" height="17" class="bd"/><circle cx="1444" cy="510" class="pc"/><text x="1451" y="512">Thickness(1)</text>
<rect x="1438" y="524" width="103" height="17" class="bd"/><circle cx="1444" cy="532" stroke="#ccc"/><text x="1451" y="534">Diffusion Profile(1)</text>
</g>
<rect x="1375" y="305" width="40" height="11" class="ft"/><text x="1378" y="313">Tangent Space</text><path d="M1428 310H1441" stroke="#d8db7e"/>
<rect x="1375" y="327" width="40" height="11" class="ft"/><text x="1378" y="335">Tangent Space</text><path d="M1428 332H1441" stroke="#d8db7e"/>
<rect x="1393" y="349" width="22" height="11" class="ft"/><text x="1397" y="357">X</text><text x="1408" y="357">0</text><path d="M1428 354H1441" stroke="#6fcad2"/>
<rect x="1395" y="371" width="20" height="11" class="ft"/><rect x="1398" y="372" width="14" height="9" fill="#000"/><text x="1400" y="379">HDR</text><path d="M1428 376H1441" stroke="#d8db7e"/>
<rect x="1393" y="437" width="22" height="11" class="ft"/><text x="1397" y="445">X</text><text x="1408" y="445">1</text><path d="M1428 443H1441" stroke="#6fcad2"/>
<rect x="1393" y="459" width="22" height="11" class="ft"/><text x="1397" y="467">X</text><text x="1408" y="467">1</text><path d="M1428 465H1441" stroke="#6fcad2"/>
<rect x="1393" y="482" width="22" height="11" class="ft"/><text x="1397" y="490">X</text><text x="1408" y="490">1</text><path d="M1428 488H1441" stroke="#6fcad2"/>
<rect x="1362" y="526" width="60" height="11" class="ft"/><text x="1366" y="534">▫ None (Diffus ⊙</text><path d="M1428 532H1441" stroke="#aaa"/>
<g transform="translate(1316,387)"><rect width="73" height="12" rx="6" class="pill"/><circle cx="6" cy="6" style="r:1.2;stroke:none;fill:#8be05a"/><text x="10" y="8">_Smoothness(1)</text><circle cx="67" cy="6" class="pc"/></g>
<g transform="translate(1309,416)"><rect width="85" height="12" rx="6" class="pill"/><circle cx="6" cy="6" style="r:1.2;stroke:none;fill:#8be05a"/><text x="10" y="8">_AmbientOcclusion(1)</text><circle cx="79" cy="6" class="pc"/></g>
<g transform="translate(1331,503)"><rect width="65" height="12" rx="6" class="pill"/><circle cx="6" cy="6" style="r:1.2;stroke:none;fill:#8be05a"/><text x="10" y="8">_Thickness(1)</text><circle cx="59" cy="6" class="pc"/></g>
<!-- Lerp -->
<g transform="translate(1187,481)"><rect width="68" height="16" class="hd"/><text class="h" x="5" y="11">Lerp</text><rect y="16" width="68" height="44" class="bd"/><rect y="16" width="28" height="44" class="ic"/><circle cx="6" cy="28" class="py"/><text x="11" y="30">A(3)</text><circle cx="6" cy="41" class="py"/><text x="11" y="43">B(3)</text><circle cx="6" cy="54" class="py"/><text x="11" y="56">T(3)</text><text class="r" x="56" y="30">Out(3)</text><circle cx="62" cy="28" class="py"/><rect y="60" width="68" height="10" class="ft"/><path d="M31 64l3 3 3-3" class="cv"/></g>

<!-- Mask -->
<g transform="translate(1076,629)"><rect width="74" height="16" class="hd"/><text class="h" x="5" y="11">UV</text><rect y="16" width="74" height="20" class="bd"/><text class="r" x="62" y="30">Out(4)</text><circle cx="68" cy="28" class="pp"/><rect y="37" width="74" height="17" class="ft"/><text x="4" y="48">Channel</text><rect x="28" y="41" width="42" height="9" class="dd"/><text x="30" y="48">UV0</text><text x="64" y="48">▾</text><rect y="54" width="74" height="10" class="ft"/><path d="M34 58l3 3 3-3" class="cv"/></g>
<g transform="translate(1168,619)"><rect width="60" height="16" class="hd"/><text class="h" x="5" y="11">Split</text><rect y="16" width="60" height="59" class="bd"/><rect y="16" width="22" height="59" class="ic"/><circle cx="6" cy="28" class="pp"/><text x="10" y="30">In(4)</text><text class="r" x="49" y="30">R(1)</text><circle cx="55" cy="28" class="pc"/><text class="r" x="49" y="43">G(1)</text><circle cx="55" cy="41" class="pc"/><text class="r" x="49" y="56">B(1)</text><circle cx="55" cy="54" class="pc"/><text class="r" x="49" y="69">A(1)</text><circle cx="55" cy="67" class="pc"/></g>
<g transform="translate(1283,640)"><rect width="75" height="12" rx="6" class="pill"/><circle cx="6" cy="6" style="r:1.2;stroke:none;fill:#8be05a"/><text x="10" y="8">_MinMaxMask(2)</text><circle cx="69" cy="6" class="pg"/></g>
<g transform="translate(1378,619)"><rect width="60" height="16" class="hd"/><text class="h" x="5" y="11">Split</text><rect y="16" width="60" height="31" class="bd"/><rect y="16" width="22" height="31" class="ic"/><circle cx="6" cy="28" class="pg"/><text x="10" y="30">In(2)</text><text class="r" x="49" y="30">R(1)</text><circle cx="55" cy="28" class="pc"/><text class="r" x="49" y="43">G(1)</text><circle cx="55" cy="41" class="pc"/></g>
<g transform="translate(1450,619)"><rect width="78" height="16" class="hd"/><text class="h" x="5" y="11">Smoothstep</text><rect y="16" width="78" height="44" class="bd"/><rect y="16" width="34" height="44" class="ic"/><circle cx="6" cy="28" class="pc"/><text x="11" y="30">Edge1(1)</text><circle cx="6" cy="41" class="pc"/><text x="11" y="43">Edge2(1)</text><circle cx="6" cy="54" class="pc"/><text x="11" y="56">In(1)</text><text class="r" x="65" y="30">Out(1)</text><circle cx="71" cy="28" class="pc"/><rect y="60" width="78" height="10" class="ft"/><path d="M36 64l3 3 3-3" class="cv"/></g>
<rect x="1195" y="709" width="40" height="11" class="ft"/><text x="1199" y="717">X</text><rect x="1206" y="710" width="16" height="9" fill="#2a2a2a"/><text x="1210" y="717">2</text><path d="M1233 715H1246" stroke="#6fcad2"/>
<g transform="translate(1242,674)"><rect width="64" height="16" class="hd"/><text class="h" x="5" y="11">Power</text><rect y="16" width="64" height="31" class="bd"/><rect y="16" width="28" height="31" class="ic"/><circle cx="6" cy="28" class="pc"/><text x="11" y="30">A(1)</text><circle cx="6" cy="41" class="pc"/><text x="11" y="43">B(1)</text><text class="r" x="52" y="30">Out(1)</text><circle cx="58" cy="28" class="pc"/><rect y="47" width="64" height="11" class="ft"/><path d="M29 51l3 3 3-3" class="cv"/></g>
<g transform="translate(1367,690)"><rect width="60" height="16" class="hd"/><text class="h" x="5" y="11">Split</text><rect y="16" width="60" height="59" class="bd"/><rect y="16" width="22" height="59" class="ic"/><circle cx="6" cy="28" class="pc"/><text x="10" y="30">In(1)</text><text class="r" x="49" y="30">R(1)</text><circle cx="55" cy="28" class="pc"/><text class="r" x="49" y="43">G(1)</text><circle cx="55" cy="41" class="pc"/><text class="r" x="49" y="56">B(1)</text><circle cx="55" cy="54" class="pc"/><text class="r" x="49" y="69">A(1)</text><circle cx="55" cy="67" class="pc"/></g>

<!-- Blackboard -->
<rect x="25" y="237" width="155" height="463" rx="3" fill="#2a2a2a" stroke="#333"/>
<rect x="25" y="237" width="155" height="40" rx="3" fill="#303030"/>
<text x="30" y="252" style="font-size:10px;fill:#d0d0d0">Fish Particles</text>
<text x="30" y="268" style="font-size:7px;fill:#5a5a5a">Shader Graphs</text>
<text x="47" y="267" style="font-size:17px;fill:#9a9a9a;fill-opacity:0.45">ArtOfSheng.com</text>
<text x="163" y="268" style="font-size:12px;fill:#eee">+</text>
<g class="bb">
<rect x="33" y="284" width="58" height="13" rx="6.5" class="pill"/><circle cx="41" cy="290.5" style="r:1.3;stroke:none;fill:#8be05a"/><text x="45" y="293" class="bb">_MainTex</text><text x="170" y="293" class="ty">Texture2D</text>
<rect x="33" y="304" width="46" height="13" rx="6.5" class="pill"/><circle cx="41" cy="310.5" style="r:1.3;stroke:none;fill:#8be05a"/><text x="45" y="313" class="bb">_Color</text><text x="170" y="313" class="ty">Color</text>
<rect x="33" y="324" width="76" height="13" rx="6.5" class="pill"/><circle cx="41" cy="330.5" style="r:1.3;stroke:none;fill:#8be05a"/><text x="45" y="333" class="bb">_MinMaxMask</text><text x="170" y="333" class="ty">Vector2</text>
<rect x="33" y="344" width="71" height="13" rx="6.5" class="pill"/><circle cx="41" cy="350.5" style="r:1.3;stroke:none;fill:#8be05a"/><text x="45" y="353" class="bb">_Smoothness</text><text x="170" y="353" class="ty">Float</text>
<rect x="33" y="364" width="62" height="13" rx="6.5" class="pill"/><circle cx="41" cy="370.5" style="r:1.3;stroke:none;fill:#8be05a"/><text x="45" y="373" class="bb">_Thickness</text><text x="170" y="373" class="ty">Float</text>
<rect x="33" y="384" width="95" height="13" rx="6.5" class="pill"/><circle cx="41" cy="390.5" style="r:1.3;stroke:none;fill:#8be05a"/><text x="45" y="393" class="bb">_AmbientOcclusion</text><text x="170" y="393" class="ty">Float</text>
<rect x="33" y="404" width="52" height="13" rx="6.5" class="pill"/><circle cx="41" cy="410.5" style="r:1.3;stroke:none;fill:#8be05a"/><text x="45" y="413" class="bb">_Rotate</text><text x="170" y="413" class="ty">Float</text>
<rect x="33" y="424" width="40" height="13" rx="6.5" class="pill"/><circle cx="41" cy="430.5" style="r:1.3;stroke:none;fill:#8be05a"/><text x="45" y="433" class="bb">_Axis</text><text x="170" y="433" class="ty">Vector3</text>
<rect x="26" y="444" width="153" height="77" rx="2" fill="none" stroke="#4a4a4a"/><text x="31" y="454" style="fill:#777;font-size:7px">▼</text><text x="50" y="454" style="fill:#666;font-size:7px">X</text>
<rect x="33" y="463" width="68" height="13" rx="6.5" class="pill"/><circle cx="41" cy="469.5" style="r:1.3;stroke:none;fill:#8be05a"/><text x="45" y="472" class="bb">_AmplitudeX</text><text x="170" y="472" class="ty">Float</text>
<rect x="33" y="483" width="72" height="13" rx="6.5" class="pill"/><circle cx="41" cy="489.5" style="r:1.3;stroke:none;fill:#8be05a"/><text x="45" y="492" class="bb">_FrequencyX</text><text x="170" y="492" class="ty">Float</text>
<rect x="33" y="503" width="54" height="13" rx="6.5" class="pill"/><circle cx="41" cy="509.5" style="r:1.3;stroke:none;fill:#8be05a"/><text x="45" y="512" class="bb">_SpeedX</text><text x="170" y="512" class="ty">Float</text>
<rect x="26" y="523" width="153" height="77" rx="2" fill="none" stroke="#4a4a4a"/><text x="31" y="533" style="fill:#777;font-size:7px">▼</text><text x="50" y="533" style="fill:#666;font-size:7px">Y</text>
<rect x="33" y="543" width="68" height="13" rx="6.5" class="pill"/><circle cx="41" cy="549.5" style="r:1.3;stroke:none;fill:#8be05a"/><text x="45" y="552" class="bb">_AmplitudeY</text><text x="170" y="552" class="ty">Float</text>
<rect x="33" y="563" width="72" height="13" rx="6.5" class="pill"/><circle cx="41" cy="569.5" style="r:1.3;stroke:none;fill:#8be05a"/><text x="45" y="572" class="bb">_FrequencyY</text><text x="170" y="572" class="ty">Float</text>
<rect x="33" y="583" width="54" height="13" rx="6.5" class="pill"/><circle cx="41" cy="589.5" style="r:1.3;stroke:none;fill:#8be05a"/><text x="45" y="592" class="bb">_SpeedY</text><text x="170" y="592" class="ty">Float</text>
<rect x="26" y="602" width="153" height="77" rx="2" fill="none" stroke="#4a4a4a"/><text x="31" y="612" style="fill:#777;font-size:7px">▼</text><text x="50" y="612" style="fill:#666;font-size:7px">Z</text>
<rect x="33" y="622" width="68" height="13" rx="6.5" class="pill"/><circle cx="41" cy="628.5" style="r:1.3;stroke:none;fill:#8be05a"/><text x="45" y="631" class="bb">_AmplitudeZ</text><text x="170" y="631" class="ty">Float</text>
<rect x="33" y="642" width="72" height="13" rx="6.5" class="pill"/><circle cx="41" cy="648.5" style="r:1.3;stroke:none;fill:#8be05a"/><text x="45" y="651" class="bb">_FrequencyZ</text><text x="170" y="651" class="ty">Float</text>
<rect x="33" y="662" width="54" height="13" rx="6.5" class="pill"/><circle cx="41" cy="668.5" style="r:1.3;stroke:none;fill:#8be05a"/><text x="45" y="671" class="bb">_SpeedZ</text><text x="170" y="671" class="ty">Float</text>
</g>
<circle cx="1490" cy="234" style="r:2" stroke="#aaa"/><circle cx="1490" cy="258" style="r:2" stroke="#aaa"/>
</svg>
</body></html>
